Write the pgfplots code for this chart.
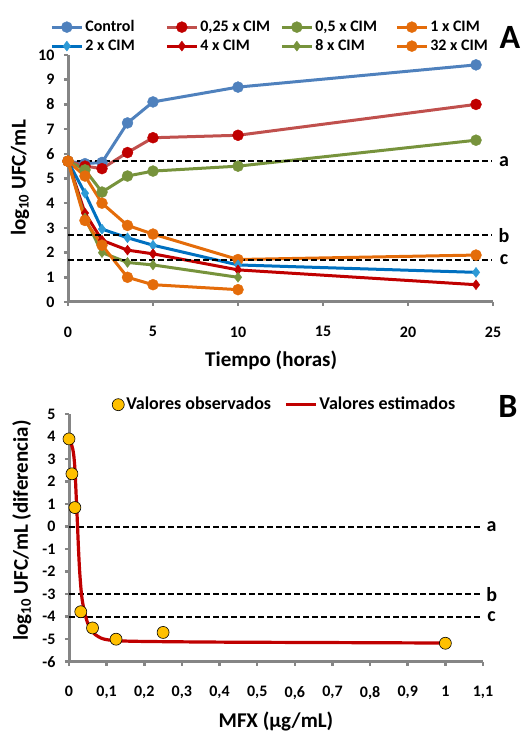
\documentclass[border=0pt]{standalone}
\usepackage{fontspec}
\setmainfont{Carlito}
\usepackage{pgfplots}
\pgfplotsset{compat=1.18}

\definecolor{axgray}{HTML}{858585}
\definecolor{cctrl}{HTML}{4F81BD}
\definecolor{cqline}{HTML}{C0504D}
\definecolor{cred}{HTML}{C00000}
\definecolor{cgreen}{HTML}{77933C}
\definecolor{corange}{HTML}{E46C0A}
\definecolor{cblue}{HTML}{0070C0}
\definecolor{cbluem}{HTML}{2E9AD6}
\definecolor{cyell}{HTML}{FFC000}

\pgfplotsset{
  base/.style={
    scale only axis, clip=false,
    axis x line=bottom, axis y line=left,
    axis line style={-, draw=axgray, line width=3pt},
    tick style={draw=axgray, line width=2.5pt},
    tick align=outside, major tick length=4pt,
    ticklabel style={font=\fontsize{16}{18}\selectfont\bfseries},
    /pgf/number format/assume math mode=true,
    /pgf/number format/use comma,
    label style={font=\fontsize{21}{23}\selectfont\bfseries},
    xticklabel style={yshift=-17pt},
    yticklabel style={xshift=-6pt},
    legend image code/.code={
      \draw[mark repeat=2,mark phase=2,#1] plot coordinates {(0pt,0pt) (15pt,0pt) (30pt,0pt)};},
    legend cell align=left,
  },
  ser/.style 2 args={color=#1, line width=3pt, mark options={solid, fill=#2, draw=#2, line width=0.4pt}},
  ref/.style={black, dash pattern=on 6pt off 3pt, line width=1.8pt, forget plot},
}

\begin{document}
\begin{tikzpicture}[x=1pt,y=1pt]
\useasboundingbox (0,0) rectangle (529,736);

% panel A
\begin{axis}[base,
  at={(68pt,434pt)}, anchor=south west, width=425pt, height=247pt,
  xmin=0, xmax=25, ymin=0, ymax=10,
  xtick={0,5,10,15,20,25}, ytick={0,1,...,10},
  xlabel={Tiempo (horas)}, ylabel={log\textsubscript{10} UFC/mL},
  xlabel style={at={(axis description cs:0.478,-0.235)}, anchor=center},
  ylabel style={at={(axis description cs:-0.113,0.502)}, anchor=center},
  legend columns=4,
  legend style={at={(axis description cs:-0.042,1.142)}, anchor=north west,
    draw=none, fill=none, inner sep=0pt, column sep=2pt, row sep=5pt,
    font=\fontsize{16}{18}\selectfont\bfseries,
    nodes={inner sep=0pt, text height=11pt, text depth=3pt}},
]
\addplot[ser={cctrl}{cctrl}, mark=*, mark size=5.5pt] coordinates {(0,5.7) (1,5.6) (2,5.65) (3.5,7.25) (5,8.1) (10,8.7) (24,9.6)};
\addlegendentry{\makebox[78pt][l]{Control}}
\addplot[ser={cqline}{cred}, mark=*, mark size=5.5pt] coordinates {(0,5.7) (1,5.5) (2,5.4) (3.5,6.05) (5,6.65) (10,6.75) (24,8.0)};
\addlegendentry{\makebox[78pt][l]{0,25 x CIM}}
\addplot[ser={cgreen}{cgreen}, mark=*, mark size=5.5pt] coordinates {(0,5.7) (1,5.35) (2,4.45) (3.5,5.1) (5,5.3) (10,5.5) (24,6.55)};
\addlegendentry{\makebox[78pt][l]{0,5 x CIM}}
\addplot[ser={corange}{corange}, mark=*, mark size=5.5pt] coordinates {(0,5.7) (1,5.1) (2,4.0) (3.5,3.1) (5,2.75) (10,1.72) (24,1.9)};
\addlegendentry{\makebox[78pt][l]{1 x CIM}}
\addplot[ser={cblue}{cbluem}, mark=diamond*, mark size=5pt] coordinates {(0,5.7) (1,4.4) (2,2.95) (3.5,2.6) (5,2.3) (10,1.5) (24,1.2)};
\addlegendentry{\makebox[78pt][l]{2 x CIM}}
\addplot[ser={cred}{cred}, mark=diamond*, mark size=5pt] coordinates {(0,5.7) (1,3.6) (2,2.5) (3.5,2.1) (5,1.95) (10,1.3) (24,0.7)};
\addlegendentry{\makebox[78pt][l]{4 x CIM}}
\addplot[ser={cgreen}{cgreen}, mark=diamond*, mark size=5pt] coordinates {(0,5.7) (1,3.4) (2,2.0) (3.5,1.6) (5,1.5) (10,1.0)};
\addlegendentry{\makebox[78pt][l]{8 x CIM}}
\addplot[ser={corange}{corange}, mark=*, mark size=5.5pt] coordinates {(0,5.7) (1,3.3) (2,2.3) (3.5,1.0) (5,0.7) (10,0.5)};
\addlegendentry{\makebox[78pt][l]{32 x CIM}}
\addplot[ref] coordinates {(0,5.7) (24.9,5.7)};
\addplot[ref] coordinates {(0,2.7) (24.9,2.7)};
\addplot[ref] coordinates {(0,1.7) (24.9,1.7)};
\node[font=\fontsize{20}{22}\selectfont\bfseries] at (axis cs:25.65,5.7) {a};
\node[font=\fontsize{20}{22}\selectfont\bfseries] at (axis cs:25.65,2.7) {b};
\node[font=\fontsize{20}{22}\selectfont\bfseries] at (axis cs:25.65,1.7) {c};
\end{axis}

% panel B
\begin{axis}[base,
  at={(69pt,74.3pt)}, anchor=south west, width=414pt, height=247.5pt,
  xmin=0, xmax=1.1, ymin=-6, ymax=5,
  xtick={0,0.1,...,1.1}, ytick={-6,-5,...,5},
  xlabel={MFX (µg/mL)}, ylabel={log\textsubscript{10} UFC/mL (diferencia)},
  xlabel style={at={(axis description cs:0.5,-0.24)}, anchor=center},
  ylabel style={at={(axis description cs:-0.114,0.53)}, anchor=center},
  legend columns=2,
  legend style={at={(axis description cs:0.104,1.0735)}, anchor=north west,
    draw=none, fill=none, inner sep=0pt, column sep=2pt,
    font=\fontsize{18}{20}\selectfont\bfseries,
    nodes={inner sep=0pt, text height=13pt, text depth=4pt}},
]
\addplot[ref] coordinates {(0,0) (1.1,0)};
\addplot[ref] coordinates {(0,-3) (1.1,-3)};
\addplot[ref] coordinates {(0,-4) (1.1,-4)};
\addplot[only marks, mark=*, mark size=6pt, mark options={fill=cyell, draw=black, line width=0.6pt}] coordinates {(0,3.9) (0.0078,2.35) (0.0156,0.85) (0.03125,-3.78) (0.0625,-4.5) (0.125,-5.0) (0.25,-4.7) (1,-5.18)};
\addlegendentry{\makebox[156pt][l]{Valores observados}}
\addplot[cred, line width=3.2pt, smooth, line join=round] coordinates {(0,3.86) (0.005,3.72) (0.01,3.45) (0.013,3.12) (0.016,2.5) (0.019,1.4) (0.022,0.3) (0.025,-0.9) (0.028,-1.9) (0.032,-2.8) (0.036,-3.35) (0.042,-3.85) (0.05,-4.3) (0.06,-4.6) (0.07,-4.8) (0.085,-4.95) (0.1,-5.02) (0.13,-5.07) (0.2,-5.1) (0.4,-5.13) (0.7,-5.15) (1,-5.17)};
\addlegendentry{Valores estimados}
\node[font=\fontsize{20}{22}\selectfont\bfseries] at (axis cs:1.123,0) {a};
\node[font=\fontsize{20}{22}\selectfont\bfseries] at (axis cs:1.123,-3) {b};
\node[font=\fontsize{20}{22}\selectfont\bfseries] at (axis cs:1.123,-4) {c};
\end{axis}

\node[font=\fontsize{34}{36}\selectfont\bfseries] at (510,699) {A};
\node[font=\fontsize{34}{36}\selectfont\bfseries] at (508,330) {B};
\end{tikzpicture}
\end{document}
